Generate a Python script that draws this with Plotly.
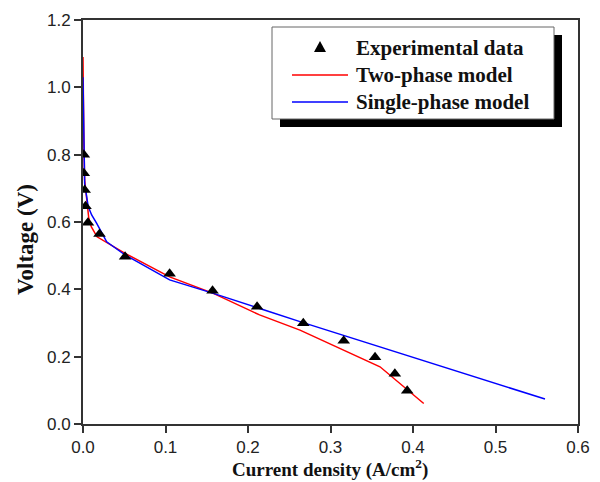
import plotly.graph_objects as go

# Experimental data
exp_x = [0.001, 0.001, 0.002, 0.003, 0.006, 0.020, 0.051, 0.105, 0.157, 0.211, 0.267, 0.316, 0.354, 0.378, 0.393]
exp_y = [0.800, 0.745, 0.695, 0.647, 0.598, 0.564, 0.497, 0.446, 0.396, 0.348, 0.299, 0.247, 0.198, 0.149, 0.099]

# Two-phase model
two_x = [0.0, 0.0003, 0.001, 0.002, 0.004, 0.007, 0.010, 0.017, 0.051, 0.105, 0.158, 0.214, 0.263, 0.360, 0.413]
two_y = [1.09, 0.95, 0.846, 0.725, 0.675, 0.611, 0.586, 0.556, 0.507, 0.437, 0.388, 0.324, 0.279, 0.170, 0.061]

# Single-phase model
one_x = [0.0, 0.0003, 0.002, 0.0063, 0.0105, 0.0166, 0.0287, 0.051, 0.105, 0.158, 0.214, 0.263, 0.560]
one_y = [1.03, 0.95, 0.715, 0.646, 0.621, 0.596, 0.541, 0.502, 0.428, 0.388, 0.344, 0.304, 0.074]

x_ticks = [0.0, 0.1, 0.2, 0.3, 0.4, 0.5, 0.6]
y_ticks = [0.0, 0.2, 0.4, 0.6, 0.8, 1.0, 1.2]

legend_labels = ["Experimental data", "Two-phase model", "Single-phase model"]
legend_colors = ["black", "#ff0000", "#0000ff"]

W, H = 600, 482
L, R, T, B = 83, 22, 20, 58
pw, ph = W - L - R, H - T - B


def px2paper(px, py):
    return (px - L) / pw, (H - B - py) / ph


fig = go.Figure()
fig.add_trace(go.Scatter(
    x=two_x, y=two_y, mode="lines", name=legend_labels[1],
    line=dict(color=legend_colors[1], width=1.5),
))
fig.add_trace(go.Scatter(
    x=one_x, y=one_y, mode="lines", name=legend_labels[2],
    line=dict(color=legend_colors[2], width=1.5),
))
fig.add_trace(go.Scatter(
    x=exp_x, y=exp_y, mode="markers", name=legend_labels[0],
    marker=dict(symbol="triangle-up", size=11, color=legend_colors[0]),
))

axis_common = dict(
    showline=True, linecolor="#333333", linewidth=2, mirror=True,
    ticks="outside", ticklen=7, tickwidth=1.5, tickcolor="#333333",
    showgrid=False, zeroline=False, automargin=False,
    tickfont=dict(family="Liberation Sans, Arial", size=17, color="#222222"),
    minor=dict(ticks="outside", ticklen=4, tickwidth=1.5, tickcolor="#333333", nticks=2),
)

fig.update_xaxes(
    range=[0, 0.6], tickvals=x_ticks, ticktext=[f"{v:.1f}" for v in x_ticks],
    **axis_common,
)
fig.update_yaxes(
    range=[0, 1.2], tickvals=y_ticks, ticktext=[f"{v:.1f}" for v in y_ticks],
    **axis_common,
)

title_font = dict(family="Liberation Serif, Times New Roman", color="#111111", weight="bold")

# Legend frame with drop shadow
shapes = []
sx0, sy0 = px2paper(280, 127)
sx1, sy1 = px2paper(562, 35)
bx0, by0 = px2paper(272, 119)
bx1, by1 = px2paper(554, 27)
shapes.append(dict(type="rect", xref="paper", yref="paper", x0=sx0, y0=sy0, x1=sx1, y1=sy1,
                   fillcolor="black", line=dict(width=0), layer="above"))
shapes.append(dict(type="rect", xref="paper", yref="paper", x0=bx0, y0=by0, x1=bx1, y1=by1,
                   fillcolor="white", line=dict(color="#666666", width=1), layer="above"))

annotations = []
row_y = [48, 75, 102]
for i, (lab, col) in enumerate(zip(legend_labels, legend_colors)):
    if i == 0:
        ax, ay = px2paper(320, row_y[i])
        shapes.append(dict(type="path", xref="paper", yref="paper",
                           xsizemode="pixel", ysizemode="pixel", xanchor=ax, yanchor=ay,
                           path="M -6,-4 L 6,-4 L 0,7 Z", fillcolor=col,
                           line=dict(width=0), layer="above"))
    else:
        x0, y0 = px2paper(292, row_y[i])
        x1, _ = px2paper(348, row_y[i])
        shapes.append(dict(type="line", xref="paper", yref="paper", x0=x0, x1=x1, y0=y0, y1=y0,
                           line=dict(color=col, width=1.5), layer="above"))
    tx, ty = px2paper(354, row_y[i])
    annotations.append(dict(text=lab, xref="paper", yref="paper", x=tx, y=ty,
                            xanchor="left", yanchor="middle", showarrow=False,
                            font=dict(size=21, **title_font)))

xt = px2paper(330, 468)
yt = px2paper(25, 240)
annotations.append(dict(text="Current density (A/cm<sup>2</sup>)", xref="paper", yref="paper",
                        x=xt[0], y=xt[1], xanchor="center", yanchor="middle", showarrow=False,
                        font=dict(size=19, **title_font)))
annotations.append(dict(text="Voltage (V)", textangle=-90, xref="paper", yref="paper",
                        x=yt[0], y=yt[1], xanchor="center", yanchor="middle", showarrow=False,
                        font=dict(size=23, **title_font)))

fig.update_layout(
    width=W, height=H,
    margin=dict(l=L, r=R, t=T, b=B),
    paper_bgcolor="white", plot_bgcolor="white",
    showlegend=False,
    shapes=shapes,
    annotations=annotations,
)

fig.write_html("out.html")
